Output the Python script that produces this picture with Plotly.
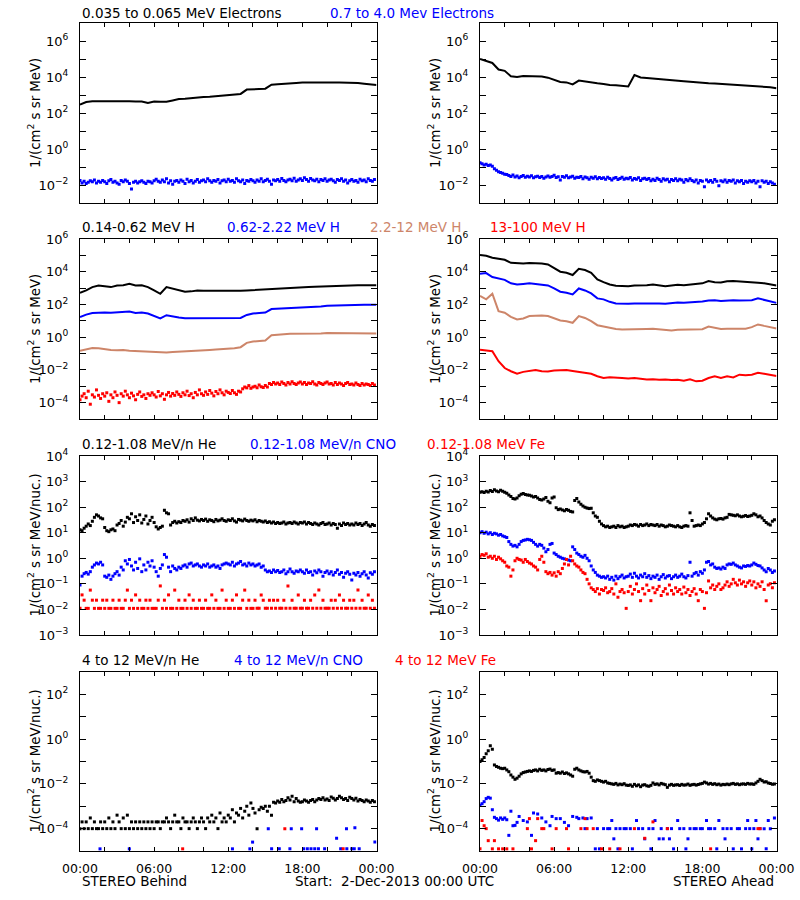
import plotly.graph_objects as go

N = None
BLACK = "#000000"
BLUE = "#0000ff"
BROWN = "rgb(205,133,105)"
RED = "#ff0000"
FONT = "DejaVu Sans"

# time axes (hours after 2-Dec-2013 00:00 UTC)
HOURS_30 = [i * 0.5 for i in range(49)]
HOURS_10 = [i / 6 for i in range(144)]

# ---------------- Row 1: electrons ----------------
beh_e_lo = [290, 410, 450, 450, 460, 460, 490, 470, 450, 440, 440, 360, 430, 420, 420, 500, 600, 620,
            680, 740, 770, 810, 880, 910, 950, 1050, 1150, 2000, 2150, 2150, 2250, 3700, 3900, 4250,
            4450, 4650, 4900, 5000, 5000, 5000, 5000, 5000, 5000, 4900, 4900, 4700, 4250, 4000, 3550]
beh_e_hi = [0.018, 0.013, 0.016, 0.012, 0.014, 0.017, 0.015, 0.019, 0.013, 0.016, 0.014, 0.018,
            0.015, 0.012, 0.017, 0.020, 0.014, 0.016, 0.013, 0.011, 0.018, 0.015, 0.019, 0.016,
            0.012, 0.006, 0.014, 0.016, 0.013, 0.015, 0.017, 0.014, 0.012, 0.016, 0.015, 0.013,
            0.017, 0.021, 0.016, 0.014, 0.019, 0.015, 0.022, 0.013, 0.017, 0.011, 0.016, 0.018,
            0.014, 0.019, 0.016, 0.012, 0.021, 0.015, 0.018, 0.013, 0.016, 0.020, 0.014, 0.017,
            0.019, 0.015, 0.022, 0.017, 0.014, 0.018, 0.016, 0.020, 0.013, 0.017, 0.019, 0.015,
            0.021, 0.016, 0.018, 0.014, 0.022, 0.017, 0.015, 0.019, 0.012, 0.018, 0.016, 0.020,
            0.017, 0.014, 0.019, 0.016, 0.022, 0.015, 0.018, 0.021, 0.016, 0.011, 0.019, 0.017,
            0.020, 0.016, 0.023, 0.018, 0.015, 0.019, 0.021, 0.017, 0.024, 0.016, 0.019, 0.022,
            0.018, 0.025, 0.020, 0.016, 0.023, 0.019, 0.017, 0.021, 0.015, 0.020, 0.018, 0.022,
            0.016, 0.019, 0.021, 0.017, 0.014, 0.020, 0.018, 0.022, 0.016, 0.019, 0.013, 0.017,
            0.020, 0.016, 0.018, 0.014, 0.021, 0.017, 0.019, 0.015, 0.022, 0.018, 0.016, 0.020]
ahe_e_lo = [1.0e5, 8.1e4, 6.0e4, 2.6e4, 2.2e4, 1.1e4, 1.0e4, 1.15e4, 1.15e4, 1.1e4, 1.05e4, 9.2e3,
            7.1e3, 5.3e3, 5.0e3, 3.9e3, 6.3e3, 5.5e3, 4.9e3, 4.5e3, 4.1e3, 3.6e3, 3.5e3, 3.2e3,
            3.0e3, 1.3e4, 9.5e3, 8.8e3, 8.1e3, 7.4e3, 6.8e3, 6.5e3, 6.3e3, 5.8e3, 5.5e3, 5.3e3,
            4.9e3, 4.5e3, 4.3e3, 4.1e3, 3.9e3, 3.7e3, 3.6e3, 3.5e3, 3.3e3, 3.2e3, 3.0e3, 2.7e3, 2.35e3]
ahe_e_hi = [0.17, 0.15, 0.13, 0.14, 0.12, 0.13, 0.11, 0.08, 0.065, 0.055, 0.05, 0.045,
            0.04, 0.038, 0.034, 0.03, 0.036, 0.028, 0.032, 0.025, 0.03, 0.034, 0.027, 0.031,
            0.028, 0.033, 0.025, 0.029, 0.031, 0.026, 0.03, 0.024, 0.028, 0.032, 0.027, 0.03,
            0.035, 0.026, 0.029, 0.019, 0.03, 0.027, 0.033, 0.025, 0.028, 0.031, 0.024, 0.027,
            0.026, 0.03, 0.022, 0.028, 0.025, 0.021, 0.027, 0.024, 0.029, 0.022, 0.026, 0.023,
            0.025, 0.021, 0.027, 0.023, 0.019, 0.024, 0.026, 0.02, 0.023, 0.027, 0.021, 0.024,
            0.022, 0.026, 0.019, 0.023, 0.021, 0.025, 0.018, 0.022, 0.024, 0.02, 0.023, 0.017,
            0.021, 0.018, 0.024, 0.02, 0.016, 0.022, 0.019, 0.021, 0.015, 0.02, 0.018, 0.022,
            0.017, 0.021, 0.019, 0.014, 0.02, 0.017, 0.022, 0.018, 0.015, 0.019, 0.013, 0.018,
            0.016, 0.008, 0.019, 0.015, 0.018, 0.014, 0.02, 0.016, 0.009, 0.017, 0.015, 0.019,
            0.014, 0.018, 0.016, 0.019, 0.013, 0.017, 0.015, 0.018, 0.012, 0.016, 0.014, 0.017,
            0.015, 0.018, 0.013, 0.016, 0.008, 0.017, 0.014, 0.016, 0.012, 0.015, 0.013, 0.011]

# ---------------- Row 2: protons ----------------
beh_h1 = [510, 720, 1150, 1450, 1300, 1150, 1450, 1500, 1850, 1450, 1500, 1150, 720, 450, 1150, 950,
          720, 600, 630, 720, 690, 690, 660, 630, 630, 660, 690, 720, 760, 790, 830, 910, 950, 1000,
          1050, 1080, 1150, 1150, 1200, 1250, 1300, 1380, 1380, 1450, 1450, 1500, 1500, 1500, 1500]
beh_h2 = [17, 24, 30, 32, 32, 31, 34, 34, 37, 30, 32, 28, 19, 14, 22, 18, 16, 14.5, 14.5, 14.5, 15,
          14.5, 14.5, 14.5, 14.5, 14.5, 15, 23, 28, 30, 32, 52, 54, 57, 60, 62, 66, 68, 72, 75, 83,
          86, 91, 91, 95, 95, 95, 95, 95]
beh_h3 = [0.15, 0.185, 0.22, 0.21, 0.185, 0.165, 0.16, 0.165, 0.15, 0.145, 0.14, 0.126, 0.12, 0.115,
          0.115, 0.126, 0.13, 0.14, 0.145, 0.15, 0.16, 0.165, 0.175, 0.185, 0.195, 0.21, 0.245, 0.45,
          0.54, 0.56, 0.63, 1.3, 1.45, 1.5, 1.6, 1.6, 1.65, 1.65, 1.7, 1.7, 1.8, 1.8, 1.7, 1.7, 1.7,
          1.65, 1.65, 1.65, 1.65]
beh_h4 = [1.5e-4, 2.5e-4, 3.5e-4, 2e-4, 5e-4, 8e-5, 3e-4, 2.2e-4, 6e-4, 2.8e-4, 1.8e-4, 3.5e-4,
          2.5e-4, 4e-4, 1.2e-4, 3e-4, 2e-4, 4.5e-4, 2.8e-4, 1e-4, 3.5e-4, 2.5e-4, 5e-4, 3e-4,
          2e-4, 3.8e-4, 2.6e-4, 1.5e-4, 3.2e-4, 4.5e-4, 2.4e-4, 3e-4, 1.8e-4, 3.5e-4, 2.8e-4, 4e-4,
          3e-4, 2.2e-4, 4.8e-4, 2.6e-4, 3.5e-4, 1.6e-4, 3e-4, 4.2e-4, 2.5e-4, 3.6e-4, 2.8e-4, 4.5e-4,
          3.2e-4, 2.4e-4, 4e-4, 3e-4, 5e-4, 2.7e-4, 3.5e-4, 2e-4, 4.2e-4, 3e-4, 6e-4, 3.5e-4,
          2.8e-4, 4.5e-4, 3.2e-4, 5.5e-4, 3.8e-4, 2.6e-4, 4.8e-4, 3.5e-4, 6e-4, 4e-4, 3e-4, 5e-4,
          4.2e-4, 3.6e-4, 5.5e-4, 4e-4, 3.2e-4, 5e-4, 4.5e-4, 7e-4, 9e-4, 8e-4, 1.1e-3, 7.5e-4,
          9e-4, 1e-3, 8e-4, 1.2e-3, 9.5e-4, 8.5e-4, 1.1e-3, 9e-4, 1.5e-3, 1.3e-3, 1.7e-3, 1.4e-3,
          1.6e-3, 1.3e-3, 1.8e-3, 1.5e-3, 1.2e-3, 1.7e-3, 1.4e-3, 1.9e-3, 1.5e-3, 1.3e-3, 1.6e-3, 1.8e-3,
          1.4e-3, 1.7e-3, 1.3e-3, 1.6e-3, 1.5e-3, 1.9e-3, 1.4e-3, 1.2e-3, 1.7e-3, 1.5e-3, 1.3e-3, 1.6e-3,
          1.8e-3, 1.4e-3, 1.5e-3, 1.2e-3, 1.7e-3, 1.3e-3, 1.6e-3, 1.4e-3, 1.1e-3, 1.5e-3, 1.7e-3, 1.3e-3,
          1.4e-3, 1.2e-3, 1.6e-3, 1.3e-3, 1.1e-3, 1.5e-3, 1.2e-3, 1.4e-3, 1.3e-3, 1.1e-3, 1.5e-3, 1.2e-3]
ahe_h1 = [1.05e5, 9.5e4, 7.2e4, 6.3e4, 5.4e4, 3.5e4, 3.2e4, 3.2e4, 3.4e4, 3.4e4, 3.2e4, 2.8e4,
          1.6e4, 1.0e4, 8.7e3, 6.3e3, 1.5e4, 1.26e4, 8.7e3, 3.4e3, 2.3e3, 1.65e3, 1.4e3, 1.3e3,
          1.3e3, 1.45e3, 1.4e3, 1.5e3, 1.65e3, 1.45e3, 1.3e3, 1.45e3, 1.6e3, 1.5e3, 1.65e3, 1.85e3,
          1.95e3, 2.7e3, 2.3e3, 2.2e3, 2.6e3, 2.7e3, 2.6e3, 2.45e3, 2.3e3, 2.1e3, 1.95e3, 1.65e3, 1.45e3]
ahe_h2 = [7.6e3, 8.3e3, 4.7e3, 3.7e3, 3.2e3, 1.95e3, 1.65e3, 1.8e3, 1.95e3, 1.8e3, 1.65e3, 1.45e3,
          950, 600, 520, 410, 950, 720, 470, 235, 205, 145, 115, 110, 110, 115, 115, 120, 125, 115,
          110, 120, 130, 125, 130, 145, 150, 175, 180, 165, 175, 180, 175, 175, 180, 235, 195, 150, 125]
ahe_h3 = [330, 205, 450, 39, 31, 17.5, 12, 14, 19.5, 21, 21, 19.5, 14, 10.5, 9.5, 7.6, 19.5, 15, 9.5,
          5.4, 4.5, 3.7, 3.2, 2.95, 2.95, 3.1, 3.1, 3.2, 3.3, 2.95, 2.7, 2.6, 2.85, 2.95, 3.1, 3.2,
          3.1, 4.5, 3.7, 3.2, 3.3, 3.4, 3.4, 3.3, 4.1, 6, 4.9, 4.1, 3.4]
ahe_h4 = [0.17, 0.16, 0.14, 0.034, 0.013, 0.0083, 0.0058, 0.0076, 0.0091, 0.01, 0.0083, 0.008,
          0.0091, 0.0091, 0.01, 0.0087, 0.0076, 0.0066, 0.0058, 0.0041, 0.0032, 0.0035, 0.0032,
          0.0032, 0.003, 0.0032, 0.0029, 0.0026, 0.0027, 0.0025, 0.0026, 0.0024, 0.0025, 0.0022,
          0.0027, 0.002, 0.0022, 0.0032, 0.0041, 0.0032, 0.0041, 0.0035, 0.0051, 0.0047, 0.0051,
          0.0066, 0.0058, 0.0051, 0.0043]

# ---------------- Row 3: 0.12-1.08 MeV/n ions ----------------
beh_he_lo = [13, 12, 15, 18, 22, 19, 28, 40, 50, 45, 38, 35,
             16, 12, 11, 13, 14, 12, 20, 23, 30, 18, 26, 40,
             35, 55, 25, 42, 30, 50, 24, 33, 45, 22, 30, 40,
             25, 17, 14, 16, 18, 75, 60, 55, 20, 25, 28, 24,
             27, 25, 30, 28, 32, 26, 35, 30, 38, 31, 29, 33,
             30, 34, 28, 32, 30, 27, 33, 29, 31, 35, 30, 28,
             32, 30, 35, 29, 26, 33, 31, 29, 34, 30, 28, 31,
             29, 32, 27, 30, 28, 26, 29, 25, 27, 24, 26, 23,
             25, 23, 24, 26, 22, 24, 25, 23, 26, 24, 22, 25,
             24, 26, 22, 25, 23, 21, 24, 22, 20, 23, 25, 21,
             22, 24, 20, 23, 21, 15, 22, 19, 24, 21, 23, 20,
             22, 20, 24, 21, 23, 19, 22, 25, 20, 18, 21, 19]
beh_cno_lo = [0.09, 0.2, 0.25, 0.28, 0.24, 0.3, 0.45, 0.55, 0.65, 0.6, 0.7, 0.55,
              0.2, 0.18, 0.22, 0.15, 0.2, 0.25, 0.3, 0.22, 0.45, 0.35, 0.8, 0.6,
              0.9, 0.5, 0.35, 0.7, 0.4, 0.95, 0.3, 0.55, 0.35, 0.7, 0.5, 0.8,
              0.45, 0.3, 0.2, 0.4, 0.55, 1.4, 1.1, 0.45, 0.3, 0.5, 0.4, 0.35,
              0.45, 0.4, 0.5, 0.55, 0.45, 0.6, 0.65, 0.5, 0.55, 0.6, 0.5, 0.45,
              0.55, 0.5, 0.6, 0.45, 0.5, 0.55, 0.45, 0.5, 0.4, 0.55, 0.6, 0.65,
              0.6, 0.55, 0.7, 0.5, 0.6, 0.65, 0.75, 0.55, 0.6, 0.5, 0.65, 0.55,
              0.6, 0.5, 0.55, 0.6, 0.45, 0.5, 0.35, 0.3, 0.32, 0.28, 0.35, 0.3,
              0.33, 0.28, 0.3, 0.35, 0.25, 0.3, 0.38, 0.3, 0.26, 0.32, 0.3, 0.35,
              0.3, 0.26, 0.35, 0.28, 0.3, 0.22, 0.32, 0.27, 0.35, 0.3, 0.2, 0.28,
              0.32, 0.25, 0.3, 0.22, 0.28, 0.35, 0.24, 0.28, 0.18, 0.26, 0.3, 0.24,
              0.14, 0.26, 0.22, 0.28, 0.2, 0.25, 0.3, 0.22, 0.17, 0.27, 0.24, 0.3]
beh_fe_lo = [0.011, 0.037, 0.023, 0.011, 0.011, 0.057, 0.023, 0.011, 0.023, 0.011, 0.011, 0.023,
             0.011, 0.023, 0.011, 0.011, 0.023, 0.011, 0.011, 0.023, 0.011, 0.011, 0.023, 0.057,
             0.011, 0.023, 0.011, 0.037, 0.011, 0.023, 0.011, 0.011, 0.023, 0.011, 0.023, 0.011,
             0.011, 0.011, 0.023, 0.083, 0.011, 0.023, 0.011, 0.037, 0.011, 0.011, 0.057, 0.011,
             0.023, 0.011, 0.011, 0.023, 0.011, 0.037, 0.011, 0.023, 0.011, 0.011, 0.023, 0.011,
             0.011, 0.023, 0.011, 0.011, 0.037, 0.011, 0.023, 0.011, 0.011, 0.057, 0.011, 0.023,
             0.011, 0.011, 0.023, 0.011, 0.037, 0.011, 0.011, 0.023, 0.057, 0.011, 0.023, 0.011,
             0.011, 0.023, 0.011, 0.011, 0.037, 0.023, 0.011, 0.011, 0.023, 0.011, 0.023, 0.011,
             0.023, 0.011, 0.011, 0.023, 0.011, 0.083, 0.011, 0.023, 0.011, 0.011, 0.037, 0.011,
             0.011, 0.023, 0.011, 0.011, 0.023, 0.011, 0.037, 0.011, 0.057, 0.011, 0.023, 0.011,
             0.011, 0.011, 0.023, 0.011, 0.023, 0.011, 0.037, 0.011, 0.023, 0.011, 0.011, 0.023,
             0.011, 0.023, 0.011, 0.057, 0.011, 0.023, 0.011, 0.011, 0.037, 0.011, 0.023, 0.011]
ahe_he_lo = [380, 400, 370, 420, 390, 450, 410, 480, 430, 400, 460, 420,
             380, 350, 300, 260, 220, 210, 230, 280, 320, 340, 310, 300,
             290, 270, 250, 260, 230, 200, 190, 210, 240, 170, 150, 230,
             250, 95, 80, 85, 78, 72, 80, 75, 68, 65, 180, 220,
             160, 130, 110, 100, 92, 88, 90, 60, 45, 40, 28, 22,
             19, 17, 18, 16, 17, 18, 16, 19, 17, 18, 16, 17,
             18, 20, 19, 21, 20, 18, 21, 19, 20, 22, 19, 21,
             20, 19, 21, 18, 20, 19, 17, 18, 20, 19, 18, 17,
             19, 17, 16, 18, 19, 18, 60, 30, 18, 19, 20, 19,
             22, 25, 35, 55, 45, 38, 34, 32, 35, 36, 34, 38,
             40, 52, 50, 48, 46, 50, 45, 42, 44, 47, 43, 45,
             48, 55, 50, 42, 45, 38, 30, 25, 22, 20, 28, 32]
ahe_cno_lo = [10, 11, 9.5, 10.5, 9, 10, 8.5, 9.5, 9, 8, 8.5, 7.5,
              7, 6.5, 4.5, 3.5, 3, 3.2, 2.8, 3.5, 4.5, 5, 5.2, 5.5,
              5.3, 5, 4.2, 3.5, 3, 3.5, 3.2, 2.5, 1.8, 2.2, 3.5, 3.8,
              1.6, 1.4, 1.2, 1.1, 1.0, 0.95, 0.9, 0.85, 0.8, 2.8, 2.2, 1.6,
              1.4, 1.2, 1.1, 1.3, 1.0, 0.8, 0.5, 0.35, 0.28, 0.22, 0.2, 0.18,
              0.19, 0.17, 0.2, 0.15, 0.18, 0.14, 0.2, 0.16, 0.19, 0.22, 0.17, 0.19,
              0.2, 0.24, 0.18, 0.26, 0.2, 0.17, 0.22, 0.19, 0.25, 0.18, 0.21, 0.16,
              0.2, 0.18, 0.22, 0.15, 0.19, 0.23, 0.17, 0.2, 0.21, 0.16, 0.19, 0.22,
              0.18, 0.2, 0.24, 0.19, 0.17, 0.21, 0.7, 0.2, 0.25, 0.28, 0.22, 0.3,
              0.26, 0.35, 0.7, 0.75, 0.55, 0.6, 0.45, 0.4, 0.42, 0.38, 0.45, 0.4,
              0.55, 0.6, 0.58, 0.65, 0.55, 0.5, 0.45, 0.42, 0.5, 0.48, 0.52, 0.5,
              0.55, 0.65, 0.58, 0.52, 0.5, 0.42, 0.35, 0.3, 0.4, 0.35, 0.28, 0.32]
ahe_fe_lo = [1.2, 1.4, 1.3, 1.5, 1.1, 1.2, 1.0, 1.2, 0.9, 1.1, 0.95, 0.8,
             0.7, 0.5, 0.45, 0.2, 0.35, 0.8, 1.0, 0.9, 0.85, 0.7, 0.9, 0.75,
             0.65, 0.6, 0.5, 0.45, 0.35, 0.9, 1.2, 0.7, 0.3, 0.25, 0.28, 0.22,
             0.27, 0.2, 0.3, 0.25, 0.4, 0.6, 0.9, 0.55, 1.2, 0.8, 0.6, 0.5,
             0.45, 0.35, 0.28, 0.25, 0.15, 0.1, 0.07, 0.06, 0.05, 0.065, 0.04, 0.06,
             0.055, 0.07, 0.045, 0.05, 0.065, 0.04, 0.1, 0.03, 0.05, 0.06, 0.045, 0.011,
             0.05, 0.08, 0.04, 0.06, 0.1, 0.05, 0.022, 0.065, 0.04, 0.09, 0.055, 0.022,
             0.07, 0.045, 0.06, 0.08, 0.035, 0.05, 0.065, 0.04, 0.09, 0.055, 0.04, 0.07,
             0.05, 0.06, 0.04, 0.075, 0.045, 0.06, 0.035, 0.05, 0.065, 0.04, 0.022, 0.06,
             0.05, 0.011, 0.045, 0.13, 0.07, 0.09, 0.06, 0.08, 0.1, 0.06, 0.07, 0.09,
             0.12, 0.08, 0.1, 0.15, 0.11, 0.09, 0.14, 0.1, 0.12, 0.08, 0.11, 0.13,
             0.09, 0.12, 0.07, 0.1, 0.08, 0.12, 0.06, 0.022, 0.09, 0.1, 0.07, 0.11]

# ---------------- Row 4: 4-12 MeV/n ions ----------------
beh_he_hi = [1e-4, 2e-4, 1e-4, 2e-4, 1e-4, 3e-4, 1e-4, 2e-4, 1e-4, 1e-4, 2e-4, 1e-4,
             2e-4, 1e-4, 3e-4, 1e-4, 2e-4, 1e-4, 4e-4, 2e-4, 1e-4, 3e-4, 1e-4, 4e-4,
             1e-4, 2e-4, 1e-4, 2e-4, 1e-4, 2e-4, 1e-4, 2e-4, 1e-4, 2e-4, 1e-4, 2e-4,
             1e-4, 2e-4, 2e-4, 1e-4, 2e-4, 2e-4, 3e-4, 2e-4, 1e-4, 2e-4, 4e-4, 2e-4,
             2e-4, 1e-4, 3e-4, 2e-4, 2e-4, 1e-4, 2e-4, 3e-4, 2e-4, 1e-4, 2e-4, 3e-4,
             2e-4, 1e-4, 3e-4, 2e-4, 4e-4, 2e-4, 3e-4, 1e-4, 5e-4, 2e-4, 3e-4, 2e-4,
             4e-4, 3e-4, 7e-4, 2e-4, 5e-4, 4e-4, 8e-4, 3e-4, 6e-4, 1e-3, 4e-4, 1.4e-3,
             8e-4, 5e-4, 1e-4, 7e-4, 9e-4, 8e-4, 1e-3, 6e-4, 1e-3, 4e-4, 1.5e-3, 1.4e-3,
             1.7e-3, 1.5e-3, 2e-3, 1.6e-3, 1.8e-3, 2.4e-3, 1.9e-3, 2.8e-3, 1.6e-3, 2.2e-3, 1.7e-3, 1.5e-3,
             1.6e-3, 1.9e-3, 1.7e-3, 1.5e-3, 1.8e-3, 2e-3, 1.6e-3, 1.9e-3, 2.2e-3, 2e-3, 2.4e-3, 1.9e-3,
             2.1e-3, 1.8e-3, 2.6e-3, 2.3e-3, 1.9e-3, 2.2e-3, 2.8e-3, 2.4e-3, 2e-3, 2.2e-3, 1.8e-3, 2.5e-3,
             2.2e-3, 1.9e-3, 2.3e-3, 1.7e-3, 2e-3, 1.8e-3, 1.6e-3, 1.9e-3, 1.7e-3, 1.5e-3, 1.8e-3, 1.6e-3]
beh_cno_hi_t = [1.62, 3.99, 12.34, 13.75, 13.97, 15.24, 15.51, 16.13, 16.99, 17.1, 17.94, 18.1,
                18.4, 18.7, 19.0, 19.15, 19.3, 19.8, 20.77, 21.1, 21.57, 21.6, 22.0, 22.2,
                22.25, 22.6, 23.87]
beh_cno_hi = [1.25e-5, 1.25e-5, 1.25e-5, 1.25e-5, 2.5e-5, 1e-4, 1.25e-5, 1.25e-5, 1.25e-5, 1e-4,
              1e-4, 1.25e-5, 1.25e-5, 1.25e-5, 1.25e-5, 1e-4, 1.25e-5, 1.25e-5, 3.7e-5, 1.25e-5,
              1e-4, 1.25e-5, 1.25e-5, 1.25e-5, 1.1e-4, 1.25e-5, 2.5e-5]
beh_fe_hi_t = [8.31, 16.58, 21.3]
beh_fe_hi = [1.25e-5, 1e-4, 1.25e-5]
ahe_he_hi = [0.1, 0.12, 0.15, 0.22, 0.3, 0.5, 0.35, 0.07, 0.06, 0.055, 0.05, 0.048,
             0.05, 0.042, 0.035, 0.025, 0.02, 0.016, 0.018, 0.022, 0.028, 0.032, 0.034, 0.036,
             0.038, 0.036, 0.04, 0.042, 0.038, 0.045, 0.04, 0.042, 0.038, 0.044, 0.046, 0.04,
             0.042, 0.03, 0.032, 0.03, 0.034, 0.029, 0.031, 0.028, 0.025, 0.022, 0.045, 0.05,
             0.042, 0.038, 0.035, 0.034, 0.036, 0.03, 0.02, 0.014, 0.013, 0.015, 0.014, 0.013,
             0.012, 0.013, 0.011, 0.0105, 0.01, 0.0095, 0.0105, 0.009, 0.0098, 0.0092, 0.0102, 0.0088,
             0.0085, 0.009, 0.0078, 0.0095, 0.0082, 0.009, 0.0075, 0.0088, 0.0092, 0.0082, 0.0078, 0.0086,
             0.011, 0.0095, 0.01, 0.009, 0.0105, 0.0098, 0.0092, 0.007, 0.0088, 0.0095, 0.0086, 0.009,
             0.0092, 0.0085, 0.0095, 0.0088, 0.009, 0.0098, 0.0086, 0.0092, 0.0095, 0.0088, 0.0094, 0.01,
             0.0105, 0.012, 0.011, 0.0098, 0.0105, 0.0095, 0.0102, 0.0092, 0.0098, 0.0088, 0.0095, 0.0092,
             0.0098, 0.0092, 0.01, 0.0105, 0.0095, 0.01, 0.0092, 0.0098, 0.01, 0.0095, 0.0105, 0.0098,
             0.01, 0.0095, 0.011, 0.013, 0.016, 0.014, 0.012, 0.0125, 0.011, 0.0105, 0.0095, 0.01]
ahe_cno_hi = [1.1e-3, 1.3e-3, 1.6e-3, 2.2e-3, 2.5e-3, 2.3e-3, 7e-4, 3.2e-4, 2.8e-4, 2.4e-4, 3e-4, 2.6e-4,
              3e-4, 2.5e-4, 5e-5, 6e-4, 1.35e-4, 1.4e-4, 1.9e-4, 3.5e-4, N, 2.3e-4, N, 2e-4,
              N, 5e-5, 5e-4, N, 4.5e-4, N, 3e-4, N, 2e-4, N, 1.35e-4, 3.5e-4,
              N, 2.8e-4, N, 2.8e-4, N, 1.9e-4, N, 1.35e-4, N, 3.5e-4, N, 3.2e-4,
              2.8e-4, N, 3e-4, 1e-4, 2.8e-4, N, 3e-4, N, 1.25e-5, 1e-4, 1.25e-5, N,
              1e-4, N, 1e-4, 1e-4, 2.3e-4, 3.5e-5, 1e-4, 1.25e-5, 1e-4, N, 1e-4, 1e-4,
              N, 1e-4, 1.25e-5, N, 2.3e-4, 1e-4, N, 1e-4, 3.5e-5, N, 1e-4, 1.25e-5,
              1e-4, 2.3e-4, N, 3.5e-5, 1e-4, 3.5e-5, N, 1e-4, 3.5e-5, 1e-4, 1.25e-5, N,
              2.3e-4, 1e-4, N, 1e-4, 1.25e-5, 3.5e-5, 1e-4, N, 1e-4, 1e-4, N, 1e-4,
              1e-4, N, 2.3e-4, 1e-4, 1e-4, N, 1e-4, 1.25e-5, 2.3e-4, N, 1e-4, 3.5e-5,
              1e-4, N, 1e-4, 1.25e-5, N, 1e-4, 1e-4, 1.25e-5, N, 1e-4, 2.3e-4, 1e-4,
              1.25e-5, 1e-4, 2.3e-4, 3.5e-5, 1e-4, N, 1e-4, 1.25e-5, 2.3e-4, 1e-4, N, 3e-4]
ahe_fe_hi = [1.25e-5, 2.3e-4, 1.35e-4, 1e-4, 2.9e-5, N, 1.25e-5, 2.9e-5, N, 1.25e-5, N, 1.25e-5,
             N, 1.25e-5, N, N, 1.25e-5, N, N, N, N, N, N, 1e-4,
             2.8e-4, 1.25e-5, N, 2.9e-5, 2.8e-4, N, 1e-4, 1e-4, N, N, N, 1.25e-5,
             N, 1e-4, N, N, N, N, 1e-4, 1.25e-5, N, N, N, N,
             N, 1e-4, N, 2.8e-4, 1e-4, N, N, 1e-4, N, N, N, 1.25e-5,
             N, N, N, 1.25e-5, N, N, N, N, 1.25e-5, N, N, N,
             N, N, N, 1e-4, N, N, N, N, 3.7e-5, N, N, N,
             2e-4, N, N, N, N, N, N, 1e-4, N, N, N, N,
             N, N, N, N, N, N, N, N, N, N, N, N,
             N, N, N, N, 1.25e-5, N, N, N, N, N, N, N,
             N, N, N, N, N, N, N, N, N, N, N, N,
             N, N, N, 1e-4, 1e-4, N, N, N, N, N, N, N]

X_MAJOR = [0, 6, 12, 18, 24]
X_LABELS = ["00:00", "06:00", "12:00", "18:00", "00:00"]
X_MINOR = [2, 4, 8, 10, 14, 16, 20, 22]

COLS = [(80, 376.5), (480, 776.5)]
ROWS = [
    dict(top=23, bot=203, lo=-3, hi=7, lab=[-2, 0, 2, 4, 6], unit="MeV"),
    dict(top=239, bot=419, lo=-5, hi=6, lab=[-4, -2, 0, 2, 4, 6], unit="MeV"),
    dict(top=456, bot=635, lo=-3, hi=4, lab=[-3, -2, -1, 0, 1, 2, 3, 4], unit="MeV/nuc."),
    dict(top=672, bot=851, lo=-5, hi=3, lab=[-4, -2, 0, 2], unit="MeV/nuc."),
]

L, M = "lines", "markers"
PANELS = [
    (0, 0, [(HOURS_30, beh_e_lo, BLACK, L), (HOURS_10, beh_e_hi, BLUE, M)]),
    (0, 1, [(HOURS_30, ahe_e_lo, BLACK, L), (HOURS_10, ahe_e_hi, BLUE, M)]),
    (1, 0, [(HOURS_30, beh_h1, BLACK, L), (HOURS_30, beh_h2, BLUE, L), (HOURS_30, beh_h3, BROWN, L),
            (HOURS_10, beh_h4, RED, M)]),
    (1, 1, [(HOURS_30, ahe_h1, BLACK, L), (HOURS_30, ahe_h2, BLUE, L), (HOURS_30, ahe_h3, BROWN, L),
            (HOURS_30, ahe_h4, RED, L)]),
    (2, 0, [(HOURS_10, beh_he_lo, BLACK, M), (HOURS_10, beh_cno_lo, BLUE, M), (HOURS_10, beh_fe_lo, RED, M)]),
    (2, 1, [(HOURS_10, ahe_he_lo, BLACK, M), (HOURS_10, ahe_cno_lo, BLUE, M), (HOURS_10, ahe_fe_lo, RED, M)]),
    (3, 0, [(HOURS_10, beh_he_hi, BLACK, M), (beh_cno_hi_t, beh_cno_hi, BLUE, M), (beh_fe_hi_t, beh_fe_hi, RED, M)]),
    (3, 1, [(HOURS_10, ahe_he_hi, BLACK, M), (HOURS_10, ahe_cno_hi, BLUE, M), (HOURS_10, ahe_fe_hi, RED, M)]),
]

W, H = 800, 900
fig = go.Figure()
layout = dict(width=W, height=H, margin=dict(l=0, r=0, t=0, b=0, autoexpand=False), showlegend=False,
              paper_bgcolor="white", plot_bgcolor="white", font=dict(family=FONT, color=BLACK))
annotations = []


def sup(k):
    return "10<sup>%s</sup>" % (("\u2212%d" % -k) if k < 0 else str(k))


for i, (r, c, traces) in enumerate(PANELS, start=1):
    row = ROWS[r]
    x0, x1 = COLS[c]
    xa, ya = "x%d" % i, "y%d" % i
    for xs, ys, col, mode in traces:
        if mode == L:
            fig.add_trace(go.Scatter(x=xs, y=ys, mode="lines", line=dict(color=col, width=2),
                                     xaxis=xa, yaxis=ya))
        else:
            fig.add_trace(go.Scatter(x=xs, y=ys, mode="markers",
                                     marker=dict(color=col, size=3, symbol="square", line=dict(width=0)),
                                     xaxis=xa, yaxis=ya))
    exps = list(range(row["lo"], row["hi"] + 1))
    minor_exps = [k for k in exps if k not in row["lab"]]
    layout["xaxis%d" % i] = dict(
        domain=[x0 / W, x1 / W], anchor=ya, range=[0, 24], tickmode="array", tickvals=X_MAJOR,
        ticktext=X_LABELS, showticklabels=(r == 3), automargin=False,
        minor=dict(tickmode="array", tickvals=X_MINOR, ticks="inside", ticklen=4, tickcolor=BLACK,
                   showgrid=False),
        ticks="inside", ticklen=4, tickcolor=BLACK, showline=True, linecolor=BLACK, linewidth=1,
        mirror="allticks", showgrid=False, zeroline=False, ticklabelstandoff=6,
        tickfont=dict(family=FONT, size=12.5, color=BLACK))
    layout["yaxis%d" % i] = dict(
        domain=[1 - row["bot"] / H, 1 - row["top"] / H], anchor=xa, type="log", automargin=False,
        range=[row["lo"], row["hi"]], tickmode="array", tickvals=[10.0 ** k for k in row["lab"]],
        ticktext=[sup(k) for k in row["lab"]],
        minor=dict(tickmode="array", tickvals=[10.0 ** k for k in minor_exps], ticks="inside",
                   ticklen=6, tickcolor=BLACK, showgrid=False),
        ticks="inside", ticklen=6, tickcolor=BLACK, showline=True, linecolor=BLACK, linewidth=1,
        mirror="allticks", showgrid=False, zeroline=False, ticklabelstandoff=8,
        tickfont=dict(family=FONT, size=13, color=BLACK))
    annotations.append(dict(
        text="1/(cm<sup>2</sup> s sr %s)" % row["unit"], textangle=-90, xref="paper", yref="paper",
        x=(x0 - 46) / W, y=1 - (row["top"] + row["bot"]) / 2 / H, xanchor="center", yanchor="middle",
        showarrow=False, font=dict(family=FONT, size=13.3, color=BLACK)))

TITLES = [
    (13, [("0.035 to 0.065 MeV Electrons", 80, BLACK), ("0.7 to 4.0 Mev Electrons", 328, BLUE)]),
    (227, [("0.14-0.62 MeV H", 80, BLACK), ("0.62-2.22 MeV H", 225, BLUE), ("2.2-12 MeV H", 368, BROWN),
           ("13-100 MeV H", 488, RED)]),
    (444, [("0.12-1.08 MeV/n He", 80, BLACK), ("0.12-1.08 MeV/n CNO", 248, BLUE), ("0.12-1.08 MeV Fe", 425, RED)]),
    (660, [("4 to 12 MeV/n He", 80, BLACK), ("4 to 12 MeV/n CNO", 232, BLUE), ("4 to 12 MeV Fe", 393, RED)]),
]
for ypx, items in TITLES:
    for text, xpx, col in items:
        annotations.append(dict(text=text, xref="paper", yref="paper", x=xpx / W, y=1 - ypx / H,
                                xanchor="left", yanchor="middle", showarrow=False,
                                font=dict(family=FONT, size=13.5, color=col)))

FOOT = [("STEREO Behind", 80, "left"), ("Start:\u00a0\u00a02-Dec-2013 00:00 UTC", 293, "left"),
        ("STEREO Ahead", 776, "right")]
for text, xpx, anc in FOOT:
    annotations.append(dict(text=text, xref="paper", yref="paper", x=xpx / W, y=1 - 881 / H,
                            xanchor=anc, yanchor="middle", showarrow=False,
                            font=dict(family=FONT, size=13.5, color=BLACK)))

layout["annotations"] = annotations
fig.update_layout(**layout)
fig.write_html("out.html")
